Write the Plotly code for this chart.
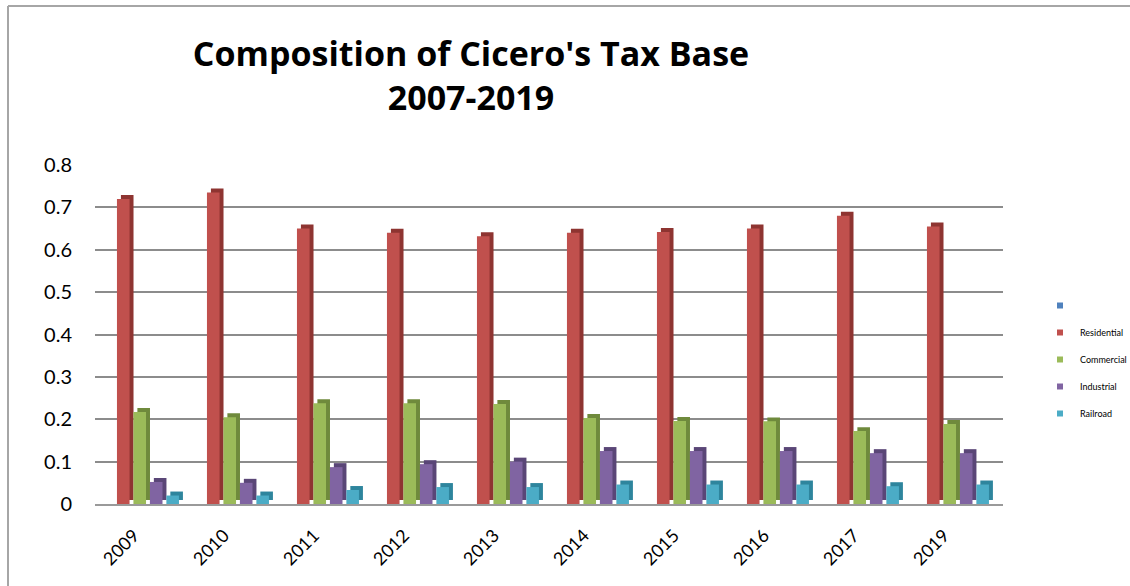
import plotly.graph_objects as go

years = ["2009", "2010", "2011", "2012", "2013", "2014", "2015", "2016", "2017", "2019"]
residential = [0.72, 0.735, 0.65, 0.64, 0.632, 0.64, 0.642, 0.65, 0.68, 0.655]
commercial = [0.217, 0.205, 0.238, 0.238, 0.236, 0.203, 0.196, 0.195, 0.172, 0.189]
industrial = [0.052, 0.05, 0.087, 0.094, 0.10, 0.125, 0.125, 0.125, 0.12, 0.12]
railroad = [0.02, 0.02, 0.033, 0.04, 0.04, 0.046, 0.046, 0.046, 0.042, 0.046]
y_ticks = [0, 0.1, 0.2, 0.3, 0.4, 0.5, 0.6, 0.7, 0.8]
y_ticktext = ["0", "0.1", "0.2", "0.3", "0.4", "0.5", "0.6", "0.7", "0.8"]

series = [
    ("Residential", residential, "#C0504D", "#8E3431"),
    ("Commercial", commercial, "#9BBB59", "#6F8A3C"),
    ("Industrial", industrial, "#8064A2", "#5A4677"),
    ("Railroad", railroad, "#4BACC6", "#2E859D"),
]

FONT = "Lato, Calibri, Carlito, sans-serif"
TITLE_FONT = "Open Sans, Calibri, sans-serif"
slot = 0.183
start = -0.189
face_w = 0.14
depth_x = 0.044
depth_y = 0.0094

fig = go.Figure()
for i, (name, vals, col, dark) in enumerate(series):
    off = start + i * slot
    fig.add_trace(go.Bar(
        x=years, y=vals, base=depth_y, offset=off + depth_x, width=face_w,
        marker=dict(color=dark, line=dict(width=0)), showlegend=False, hoverinfo="skip"))
    fig.add_trace(go.Bar(
        x=years, y=vals, offset=off, width=face_w, name=name,
        marker=dict(color=col, line=dict(width=0)), showlegend=False))

# legend entries (small squares like the original)
legend_items = [(" ", "#4F81BD")] + [(s[0], s[2]) for s in series]
for k, (nm, col) in enumerate(legend_items):
    fig.add_trace(go.Scatter(
        x=[None], y=[None], mode="markers", name=nm, legendgroup=f"g{k}",
        marker=dict(symbol="square", size=6, color=col), showlegend=True))

L, R, T, B = 95, 127, 165, 82
W, H = 1130, 586
pw, ph = W - L - R, H - T - B

def px_x(px):
    return (px - L) / pw

def px_y(py):
    return (H - B - py) / ph

shapes = [
    dict(type="line", xref="paper", yref="paper", x0=px_x(8), x1=px_x(8), y0=px_y(6), y1=px_y(586),
         line=dict(color="#A6A6A6", width=2)),
    dict(type="line", xref="paper", yref="paper", x0=px_x(8), x1=px_x(1130), y0=px_y(6), y1=px_y(6),
         line=dict(color="#A6A6A6", width=2)),
]

fig.update_layout(
    width=W, height=H,
    margin=dict(l=L, r=R, t=T, b=B, autoexpand=False),
    paper_bgcolor="white", plot_bgcolor="white",
    barmode="overlay",
    title=dict(
        text="Composition of Cicero's Tax Base<br>2007-2019",
        x=471 / W, xanchor="center", xref="container",
        y=1 - 66 / H, yanchor="top", yref="container",
        font=dict(family=TITLE_FONT, size=34, color="black", weight="bold"),
    ),
    font=dict(family=FONT, color="black"),
    xaxis=dict(
        type="category", range=[-0.433, 9.656], tickangle=-45,
        tickfont=dict(size=18, color="black"), showgrid=False,
        showline=True, linecolor="#9A9A9A", linewidth=2,
        ticks="", ticklabelstandoff=12, automargin=False,
    ),
    yaxis=dict(
        range=[0, 0.8], tickvals=y_ticks, ticktext=y_ticktext,
        tickfont=dict(size=20, color="black"), showgrid=True,
        gridcolor="#8C8C8C", gridwidth=1.5, zeroline=False,
        ticks="", ticklabelstandoff=22, showline=False, automargin=False,
    ),
    legend=dict(
        xref="container", yref="container",
        x=1040 / W, xanchor="left", y=1 - 291 / H, yanchor="top",
        font=dict(family=FONT, size=9, color="black"),
        tracegroupgap=8, traceorder="grouped", itemwidth=30,
        bgcolor="rgba(0,0,0,0)",
    ),
    shapes=shapes,
)

fig.write_html("out.html", post_script="document.body.style.margin='0';",
               config={"displayModeBar": False})
